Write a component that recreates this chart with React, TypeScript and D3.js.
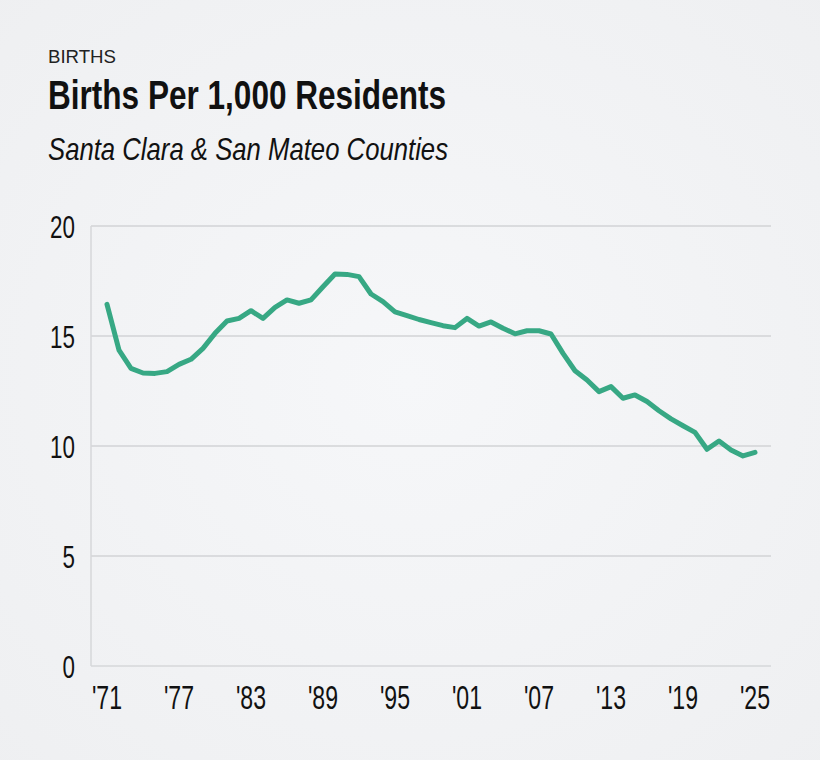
import React from "react";
import * as d3 from "d3";

// Births per 1,000 residents, Santa Clara & San Mateo counties
const years = [
  1971, 1972, 1973, 1974, 1975, 1976, 1977, 1978, 1979, 1980,
  1981, 1982, 1983, 1984, 1985, 1986, 1987, 1988, 1989, 1990,
  1991, 1992, 1993, 1994, 1995, 1996, 1997, 1998, 1999, 2000,
  2001, 2002, 2003, 2004, 2005, 2006, 2007, 2008, 2009, 2010,
  2011, 2012, 2013, 2014, 2015, 2016, 2017, 2018, 2019, 2020,
  2021, 2022, 2023, 2024, 2025,
];
const birthRate = [
  16.44, 14.36, 13.53, 13.32, 13.3, 13.38, 13.71, 13.94, 14.44, 15.12,
  15.68, 15.8, 16.15, 15.8, 16.3, 16.64, 16.49, 16.64, 17.24, 17.82,
  17.8, 17.7, 16.91, 16.56, 16.1, 15.93, 15.75, 15.61, 15.47, 15.38,
  15.8, 15.45, 15.64, 15.35, 15.1, 15.24, 15.24, 15.09, 14.21, 13.42,
  13.0, 12.47, 12.7, 12.17, 12.32, 12.02, 11.6, 11.23, 10.92, 10.62,
  9.85, 10.23, 9.82, 9.55, 9.71,
];
const yTicks = [0, 5, 10, 15, 20];
const xTickYears = [1971, 1977, 1983, 1989, 1995, 2001, 2007, 2013, 2019, 2025];

const W = 820;
const H = 760;
const plot = { left: 91, right: 771, top: 226, bottom: 666 };
const font = "'Liberation Sans', 'Arial', sans-serif";
const narrow = 0.7; // horizontal squeeze for a condensed look

export default function App() {
  const x = d3.scaleLinear().domain([1971, 2025]).range([107, 755]);
  const y = d3.scaleLinear().domain([0, 20]).range([plot.bottom, plot.top]);
  const line = d3
    .line<number>()
    .x((_, i) => x(years[i]))
    .y((d) => y(d))
    .curve(d3.curveLinear);

  return (
    <svg
      width={W}
      height={H}
      style={{ position: "absolute", left: 0, top: 0, display: "block" }}
    >
      <defs>
        <radialGradient id="bg" cx="50%" cy="50%" r="75%">
          <stop offset="0%" stopColor="#f6f7f9" />
          <stop offset="100%" stopColor="#eeeff1" />
        </radialGradient>
      </defs>
      <rect width={W} height={H} fill="url(#bg)" />

      <text x={48} y={63} fontFamily={font} fontSize={18} fill="#222" textLength={68} lengthAdjust="spacingAndGlyphs">
        BIRTHS
      </text>
      <text x={48} y={109} fontFamily={font} fontSize={41} fontWeight="bold" fill="#111" textLength={398} lengthAdjust="spacingAndGlyphs">
        Births Per 1,000 Residents
      </text>
      <text x={48} y={160} fontFamily={font} fontSize={32} fontStyle="italic" fill="#111" textLength={400} lengthAdjust="spacingAndGlyphs">
        Santa Clara &amp; San Mateo Counties
      </text>

      {/* horizontal gridlines */}
      {yTicks.map((t) => (
        <line
          key={t}
          x1={plot.left}
          x2={plot.right}
          y1={y(t)}
          y2={y(t)}
          stroke={t === 0 ? "#d6d7da" : "#d2d3d6"}
          strokeWidth={1.5}
        />
      ))}
      {/* left axis */}
      <line x1={plot.left} x2={plot.left} y1={plot.top} y2={plot.bottom} stroke="#d6d7da" strokeWidth={1.5} />

      {yTicks.map((t) => (
        <g key={t} transform={`translate(75,${y(t)}) scale(${narrow},1)`}>
          <text dy="0.36em" textAnchor="end" fontFamily={font} fontSize={32} fill="#111">
            {t}
          </text>
        </g>
      ))}

      {xTickYears.map((yr) => (
        <g key={yr} transform={`translate(${x(yr)},709) scale(${narrow},1)`}>
          <text textAnchor="middle" fontFamily={font} fontSize={33} fill="#111">
            {"'" + String(yr).slice(2)}
          </text>
        </g>
      ))}

      <path
        d={line(birthRate) ?? ""}
        fill="none"
        stroke="#37a884"
        strokeWidth={5}
        strokeLinejoin="round"
        strokeLinecap="round"
      />
    </svg>
  );
}
